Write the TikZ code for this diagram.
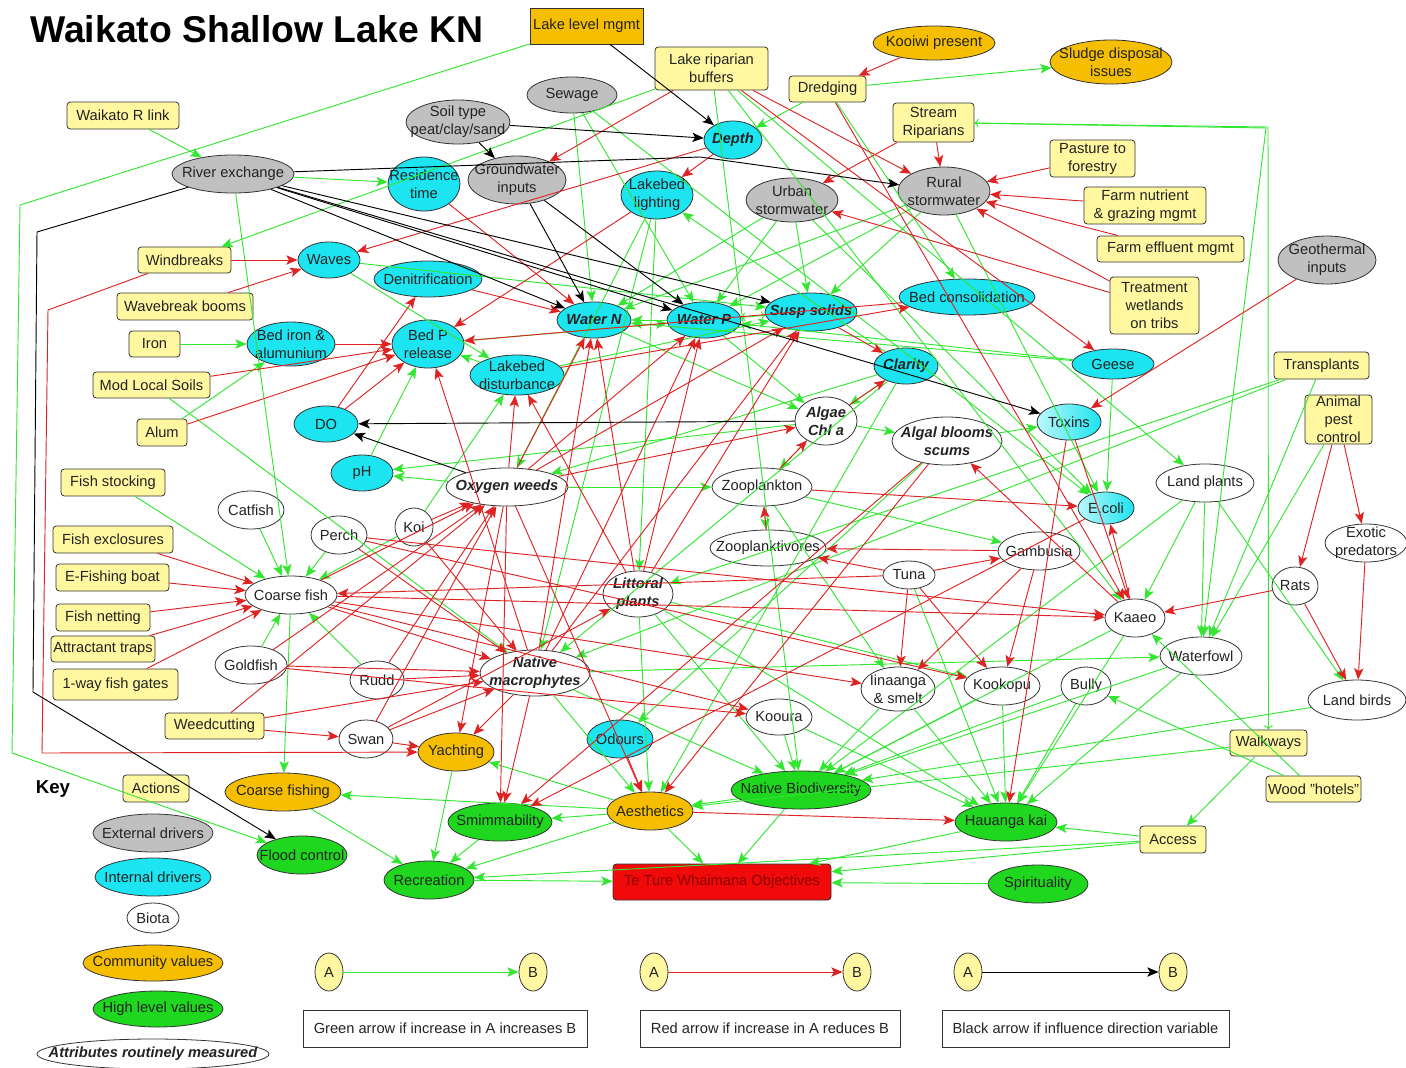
\documentclass[tikz,border=0pt]{standalone}
\usepackage{fontspec}
\setmainfont{Liberation Sans}
\usepackage{tikz}
\usetikzlibrary{shapes.geometric,arrows.meta}
\usepackage{xcolor}

\definecolor{actY}{RGB}{255,248,160}
\definecolor{comO}{RGB}{246,190,0}
\definecolor{extG}{RGB}{192,192,192}
\definecolor{intC}{RGB}{28,228,240}
\definecolor{hiG}{RGB}{30,215,30}
\definecolor{arrG}{RGB}{50,230,50}
\definecolor{arrR}{RGB}{222,35,35}
\definecolor{ttwR}{RGB}{240,10,10}
\definecolor{ttwT}{RGB}{140,0,0}
\definecolor{txt}{RGB}{35,35,35}

\begin{document}
\begin{tikzpicture}
		[   x=0.75pt, y=-0.75pt,
		    enode/.style={draw=black!80,fill=#1,ellipse,inner sep=0pt,line width=0.6pt},
		    bnode/.style={draw=black!80,fill=#1,rectangle,rounded corners=2.5pt,inner sep=0pt,line width=0.6pt},
		    sz/.style 2 args={minimum width=#1*0.75pt,minimum height=#2*0.75pt},
		    lab/.style={font=\fontsize{11}{13.5}\selectfont,align=center,text=txt,inner sep=0pt},
		    labbi/.style={lab,font=\fontsize{11}{13.5}\selectfont\bfseries\itshape},
		]
		\tikzset{green arrow/.style={draw=arrG,line width=0.7pt,-{Stealth[length=8.5pt,width=7pt,inset=2pt]}}}
		\tikzset{red arrow/.style={draw=arrR,line width=0.7pt,-{Stealth[length=8.5pt,width=7pt,inset=2pt]}}}
		\tikzset{black arrow/.style={draw=black,line width=0.7pt,-{Stealth[length=8.5pt,width=7pt,inset=2pt]}}}
		
		\useasboundingbox (0,0) rectangle (1406,1067);
		
		\node[font=\fontsize{28}{30}\selectfont\bfseries,anchor=base west,inner sep=0pt] (title) at (30,42) {Waikato Shallow Lake KN};
		
		% actions and community values along the top
		\node[bnode=comO,sharp corners,sz={113}{36},label={[lab]center:Lake level mgmt}] (llm) at (586.5,26) {};
		\node[bnode=actY,sz={113}{43},label={[lab]center:Lake riparian\\buffers}] (lrb) at (711.5,68.5) {};
		\node[bnode=actY,sz={77}{26},label={[lab]center:Dredging}] (dred) at (827.5,89) {};
		\node[enode=comO,sz={122}{34},label={[lab]center:Kooiwi present}] (koo) at (934,43) {};
		\node[enode=comO,sz={122}{44},label={[lab]center:Sludge disposal\\issues}] (sludge) at (1111,62) {};
		\node[bnode=actY,sz={81}{39},label={[lab]center:Stream\\Riparians}] (srip) at (933.5,122.5) {};
		\node[bnode=actY,sz={85}{37},label={[lab]center:Pasture to\\forestry}] (past) at (1092.5,158.5) {};
		\node[bnode=actY,sz={122}{37},label={[lab]center:Farm nutrient\\\& grazing mgmt}] (fnut) at (1145,205.5) {};
		\node[bnode=actY,sz={147}{26},label={[lab]center:Farm effluent mgmt}] (feff) at (1170.5,249) {};
		\node[enode=extG,sz={98}{48},label={[lab]center:Geothermal\\inputs}] (geo) at (1327,260) {};
		\node[bnode=actY,sz={89}{57},label={[lab]center:Treatment\\wetlands\\on tribs}] (twet) at (1154.5,305.5) {};
		\node[bnode=actY,sz={95}{27},label={[lab]center:Transplants}] (trans) at (1321.5,365.5) {};
		\node[bnode=actY,sz={67}{49},label={[lab]center:Animal\\pest\\control}] (apc) at (1338.5,419.5) {};
		
		% external and internal drivers
		\node[bnode=actY,sz={112}{27},label={[lab]center:Waikato R link}] (wrl) at (123,115.5) {};
		\node[enode=extG,sz={122}{38},label={[lab]center:River exchange}] (rivx) at (233,174) {};
		\node[enode=extG,sz={104}{44},label={[lab]center:Soil type\\peat/clay/sand}] (soil) at (458,122) {};
		\node[enode=extG,sz={90}{36},label={[lab]center:Sewage}] (sew) at (572,95) {};
		\node[enode=extG,sz={98}{48},label={[lab]center:Groundwater\\inputs}] (gw) at (517,180) {};
		\node[enode=intC,sz={72}{54},label={[lab]center:Residence\\time}] (res) at (424,184) {};
		\node[enode=intC,sz={58}{38},label={[labbi]center:Depth}] (depth) at (733,140) {};
		\node[enode=intC,sz={72}{48},label={[lab]center:Lakebed\\lighting}] (lbl) at (657,195) {};
		\node[enode=extG,sz={92}{44},label={[lab]center:Urban\\stormwater}] (urb) at (792,200) {};
		\node[enode=extG,sz={92}{48},label={[lab]center:Rural\\stormwater}] (rur) at (944,191) {};
		\node[bnode=actY,sz={93}{26},label={[lab]center:Windbreaks}] (wbrk) at (184.5,260) {};
		\node[enode=intC,sz={62}{36},label={[lab]center:Waves}] (waves) at (329,260) {};
		\node[enode=intC,sz={108}{36},label={[lab]center:Denitrification}] (denit) at (428,279) {};
		\node[bnode=actY,sz={136}{27},label={[lab]center:Wavebreak booms}] (wboom) at (185,306.5) {};
		\node[bnode=actY,sz={51}{26},label={[lab]center:Iron}] (iron) at (154.5,344) {};
		\node[enode=intC,sz={88}{44},label={[lab]center:Bed iron \&\\alumunium}] (bedfe) at (291,344) {};
		\node[enode=intC,sz={72}{48},label={[lab]center:Bed P\\release}] (bedp) at (428,344) {};
		\node[enode=intC,sz={94}{40},label={[lab]center:Lakebed\\disturbance}] (lbd) at (517,375) {};
		\node[enode=intC,sz={74}{36},label={[labbi]center:Water N}] (wn) at (594,320) {};
		\node[enode=intC,sz={74}{36},label={[labbi]center:Water P}] (wp) at (704,320) {};
		\node[enode=intC,sz={92}{38},label={[labbi]center:Susp solids}] (ss) at (811,312) {};
		\node[enode=intC,sz={136}{36},label={[lab]center:Bed consolidation}] (bcons) at (967,297) {};
		\node[enode=intC,sz={64}{36},label={[labbi]center:Clarity}] (clar) at (906,366) {};
		\node[enode=intC,sz={82}{30},label={[lab]center:Geese}] (geese) at (1113,364) {};
		\node[enode=intC,left color=intC!30,right color=intC,sz={64}{36},label={[lab]center:Toxins}] (tox) at (1069,422) {};
		\node[bnode=actY,sz={117}{26},label={[lab]center:Mod Local Soils}] (mls) at (151.5,385) {};
		\node[bnode=actY,sz={50}{27},label={[lab]center:Alum}] (alum) at (162,432.5) {};
		\node[enode=intC,sz={64}{36},label={[lab]center:DO}] (do) at (326,424) {};
		\node[enode=intC,sz={62}{36},label={[lab]center:pH}] (ph) at (362,473) {};
		
		% biota
		\node[enode=white,sz={62}{48},label={[labbi]center:Algae\\Chl a}] (algae) at (826,421) {};
		\node[enode=white,sz={110}{48},label={[labbi]center:Algal blooms\\scums}] (bloom) at (947,441) {};
		\node[enode=white,sz={122}{38},label={[labbi]center:Oxygen weeds}] (oxw) at (507,487) {};
		\node[enode=white,sz={100}{38},label={[lab]center:Zooplankton}] (zoo) at (762,487) {};
		\node[enode=intC,left color=intC!30,right color=intC,sz={56}{32},label={[lab]center:E.coli}] (ecoli) at (1106,508) {};
		\node[enode=white,sz={98}{38},label={[lab]center:Land plants}] (lplant) at (1205,483) {};
		\node[bnode=actY,sz={104}{27},label={[lab]center:Fish stocking}] (fstock) at (113,482.5) {};
		\node[enode=white,sz={66}{38},label={[lab]center:Catfish}] (catf) at (251,510) {};
		\node[enode=white,sz={56}{38},label={[lab]center:Perch}] (perch) at (339,535) {};
		\node[enode=white,sz={38}{38},label={[lab]center:Koi}] (koi) at (414,527) {};
		\node[bnode=actY,sz={120}{27},label={[lab]center:Fish exclosures}] (fexcl) at (113,539.5) {};
		\node[bnode=actY,sz={113}{27},label={[lab]center:E-Fishing boat}] (efish) at (112.5,577.5) {};
		\node[bnode=actY,sz={94}{27},label={[lab]center:Fish netting}] (fnet) at (103,617.5) {};
		\node[bnode=actY,sz={104}{26},label={[lab]center:Attractant traps}] (atrap) at (103,649) {};
		\node[bnode=actY,sz={125}{31},label={[lab]center:1-way fish gates}] (gates) at (115.5,684.5) {};
		\node[enode=white,sz={92}{38},label={[lab]center:Coarse fish}] (coarse) at (291,595) {};
		\node[enode=white,sz={116}{36},label={[lab]center:Zooplanktivores}] (zoov) at (768,548) {};
		\node[enode=white,sz={82}{38},label={[lab]center:Gambusia}] (gamb) at (1039,551) {};
		\node[enode=white,sz={70}{46},label={[labbi]center:Littoral\\plants}] (litt) at (638,594) {};
		\node[enode=white,sz={52}{28},label={[lab]center:Tuna}] (tuna) at (909,575) {};
		\node[enode=white,sz={60}{38},label={[lab]center:Kaaeo}] (kaaeo) at (1135,618) {};
		\node[enode=white,sz={46}{38},label={[lab]center:Rats}] (rats) at (1295,586) {};
		\node[enode=white,sz={82}{38},label={[lab]center:Exotic\\predators}] (expred) at (1366,543) {};
		\node[enode=white,sz={72}{38},label={[lab]center:Goldfish}] (gold) at (251,665) {};
		\node[enode=white,sz={54}{38},label={[lab]center:Rudd}] (rudd) at (377,680) {};
		\node[enode=white,sz={110}{46},label={[labbi]center:Native\\macrophytes}] (nmac) at (535,673) {};
		\node[enode=white,sz={74}{44},label={[lab]center:Iinaanga\\\& smelt}] (iin) at (898,689) {};
		\node[enode=white,sz={76}{38},label={[lab]center:Kookopu}] (kook) at (1002,686) {};
		\node[enode=white,sz={50}{38},label={[lab]center:Bully}] (bully) at (1086,686) {};
		\node[enode=white,sz={82}{38},label={[lab]center:Waterfowl}] (wfowl) at (1201,656) {};
		\node[enode=white,sz={98}{40},label={[lab]center:Land birds}] (lbird) at (1357,700) {};
		\node[bnode=actY,sz={99}{26},label={[lab]center:Weedcutting}] (weed) at (214.5,726) {};
		\node[enode=white,sz={54}{38},label={[lab]center:Swan}] (swan) at (366,739) {};
		\node[enode=comO,sz={76}{38},label={[lab]center:Yachting}] (yacht) at (456,752) {};
		\node[enode=intC,sz={66}{38},label={[lab]center:Odours}] (odour) at (620,739) {};
		\node[enode=white,sz={66}{36},label={[lab]center:Kooura}] (koura) at (779,717) {};
		\node[bnode=actY,sz={77}{26},label={[lab]center:Walkways}] (walk) at (1268.5,743) {};
		\node[bnode=actY,sz={95}{26},label={[lab]center:Wood "hotels"}] (wood) at (1313.5,789) {};
		
		% values
		\node[enode=comO,sz={116}{38},label={[lab]center:Coarse fishing}] (cfish) at (283,792) {};
		\node[enode=hiG,sz={140}{38},label={[lab]center:Native Biodiversity}] (nbio) at (801,790) {};
		\node[enode=comO,sz={86}{38},label={[lab]center:Aesthetics}] (aest) at (650,811) {};
		\node[enode=hiG,sz={104}{38},label={[lab]center:Smimmability}] (swim) at (500,822) {};
		\node[enode=hiG,sz={102}{38},label={[lab]center:Hauanga kai}] (hkai) at (1006,822) {};
		\node[enode=hiG,sz={90}{38},label={[lab]center:Flood control}] (flood) at (302,855) {};
		\node[bnode=actY,sz={66}{27},label={[lab]center:Access}] (access) at (1173,839.5) {};
		\node[enode=hiG,sz={90}{38},label={[lab]center:Recreation}] (recr) at (429,880) {};
		\node[bnode=ttwR,sz={218}{36},label={[lab,text=ttwT]center:Te Ture Whaimana Objectives}] (ttw) at (722,882) {};
		\node[enode=hiG,sz={100}{38},label={[lab]center:Spirituality}] (spirit) at (1038,884) {};
		
		% key
		\node[font=\fontsize{14}{16}\selectfont\bfseries,inner sep=0pt] (key) at (53,789) {Key};
		\node[bnode=actY,sz={66}{27},label={[lab]center:Actions}] (actions) at (156,788.5) {};
		\node[enode=extG,sz={120}{38},label={[lab]center:External drivers}] (extd) at (153,833) {};
		\node[enode=intC,sz={116}{38},label={[lab]center:Internal drivers}] (intd) at (153,877) {};
		\node[enode=white,sz={52}{30},label={[lab]center:Biota}] (biota) at (153,918) {};
		\node[enode=comO,sz={140}{36},label={[lab]center:Community values}] (commv) at (153,963) {};
		\node[enode=hiG,sz={130}{36},label={[lab]center:High level values}] (highv) at (158,1009) {};
		\node[enode=white,sz={232}{30},label={[labbi]center:Attributes routinely measured}] (attr) at (153,1054) {};
		
		\node[enode=actY,sz={28}{38},label={[lab]center:A}] (a-1) at (329,972) {};
		\node[enode=actY,sz={28}{38},label={[lab]center:B}] (b-1) at (533,972) {};
		\node[enode=actY,sz={28}{38},label={[lab]center:A}] (a-2) at (654,972) {};
		\node[enode=actY,sz={28}{38},label={[lab]center:B}] (b-2) at (857,972) {};
		\node[enode=actY,sz={28}{38},label={[lab]center:A}] (a-3) at (968,972) {};
		\node[enode=actY,sz={28}{38},label={[lab]center:B}] (b-3) at (1173,972) {};
		\node[bnode=white,sharp corners,sz={284}{37},label={[lab]center:Green arrow if increase in A increases B}] (t-1) at (445,1028.5) {};
		\node[bnode=white,sharp corners,sz={260}{37},label={[lab]center:Red arrow if increase in A reduces B}] (t-2) at (770,1028.5) {};
		\node[bnode=white,sharp corners,sz={287}{37},label={[lab]center:Black arrow if influence direction variable}] (t-3) at (1085.5,1028.5) {};
		
		\path[green arrow] (a-1) -- (b-1);
		\path[red arrow] (a-2) -- (b-2);
		\path[black arrow] (a-3) -- (b-3);
		
		% green: increase in A increases B
		\foreach \a/\b in {wrl/rivx,rivx/res,rivx/coarse,lrb/wbrk,iron/bedfe,alum/bedfe,mls/nmac,%
			waves/lbd,waves/ss,ph/bedp,lbd/bedp,bedp/wp,sew/wn,sew/wp,sew/ecoli,urb/wn,urb/wp,urb/ss,%
			urb/ecoli,rur/wn,rur/wp,rur/ss,rur/ecoli,dred/depth,dred/sludge,dred/bcons,lbd/ss,%
			clar/algae,clar/lbl,clar/nmac,clar/oxw,clar/aest,wn/algae,wp/algae,wp/wn,algae/bloom,%
			algae/zoo,algae/ph,oxw/ph,oxw/zoo,bloom/tox,bloom/odour,zoo/zoov,zoo/gamb,zoo/iin,%
			lbl/oxw,lbl/nmac,lbl/litt,geese/ecoli,geese/wn,geese/wp,lrb/lplant,lrb/kaaeo,%
			lplant/kaaeo,lplant/wfowl,lplant/lbird,trans/wfowl,trans/litt,trans/nmac,apc/wfowl,%
			walk/access,walk/aest,wood/kaaeo,wood/bully,aest/yacht,aest/cfish,aest/swim,%
			coarse/cfish,nbio/aest,koi/lbd,nmac/wfowl,nmac/aest,litt/aest,litt/kook}
		{
			\path[green arrow] (\a) -- (\b);
		}
		
		\foreach \x in {catf,perch,gold,rudd,koi,fstock}
		{
			\path[green arrow] (\x) -- (coarse);
		}
		\foreach \x in {koura,iin,kook,bully,kaaeo,wfowl,lbird,nmac,litt,lplant,lrb}
		{
			\path[green arrow] (\x) -- (nbio);
		}
		\foreach \x in {kook,bully,kaaeo,iin,koura,wfowl,tuna,litt,access}
		{
			\path[green arrow] (\x) -- (hkai);
		}
		\foreach \x in {nbio,hkai,aest,recr,spirit,access}
		{
			\path[green arrow] (\x) -- (ttw);
		}
		\foreach \x in {swim,yacht,cfish,aest,access}
		{
			\path[green arrow] (\x) -- (recr);
		}
		\path[green arrow,<->] (wp) -- (ss);
		\path[green arrow] (llm) -- (20,205) -- (12,753) -- (flood);
		\path[green arrow,<->] (srip) -- (1268,127) -- (walk);
		\path[green arrow] (srip) -- (1266,128) -- (wfowl);
		
		% red: increase in A reduces B
		\foreach \a/\b in {koo/dred,wbrk/waves,wboom/waves,depth/waves,depth/lbl,lrb/gw,lrb/rur,%
			lrb/geese,srip/rur,srip/urb,past/rur,fnut/rur,feff/rur,twet/rur,twet/urb,geo/tox,%
			mls/bedp,alum/bedp,bedfe/bedp,do/bedp,do/denit,lbl/bedp,nmac/bedp,denit/wn,res/wn,%
			oxw/lbd,litt/lbd,lbd/bcons,bcons/bedp,nmac/ss,litt/ss,oxw/ss,oxw/wn,oxw/wp,nmac/wn,%
			nmac/wp,litt/wn,litt/wp,ss/clar,algae/clar,oxw/algae,zoo/algae,zoov/zoo,zoo/ecoli,%
			gamb/zoov,tuna/zoov,tuna/gamb,tuna/kook,tuna/iin,tuna/coarse,gamb/kook,gamb/iin,%
			kaaeo/bloom,coarse/kaaeo,perch/kaaeo,rats/kaaeo,tox/kaaeo,kaaeo/ecoli,dred/kaaeo,%
			rats/lbird,expred/lbird,apc/rats,apc/expred,tox/hkai,ecoli/swim,aest/hkai,odour/aest,%
			bloom/aest,bloom/swim,oxw/aest,oxw/swim,oxw/yacht,nmac/yacht,nmac/swim,swan/yacht,%
			weed/swan,swan/litt,coarse/koura,gold/koura,coarse/iin,perch/kook}
		{
			\path[red arrow] (\a) -- (\b);
		}
		
		\foreach \x in {koi,rudd,swan,weed,gold,coarse}
		{
			\path[red arrow] (\x) -- (oxw);
		}
		\foreach \x in {koi,gold,rudd,swan,weed,coarse,perch}
		{
			\path[red arrow] (\x) -- (nmac);
		}
		\foreach \x in {fexcl,efish,fnet,atrap,gates}
		{
			\path[red arrow] (\x) -- (coarse);
		}
		\path[red arrow] (wbrk) -- (48,310) -- (42,753) -- (yacht);
		
		% black: direction variable
		\foreach \a/\b in {llm/depth,soil/depth,soil/gw,rivx/wn,rivx/wp,rivx/ss,rivx/tox,%
			gw/wn,gw/wp,algae/do,oxw/do}
		{
			\path[black arrow] (\a) -- (\b);
		}
		\path[black arrow] (rivx) -- (700,157) -- (rur);
		\path[black arrow] (rivx) -- (37,232) -- (33,692) -- (flood);
		
\end{tikzpicture}
\end{document}
